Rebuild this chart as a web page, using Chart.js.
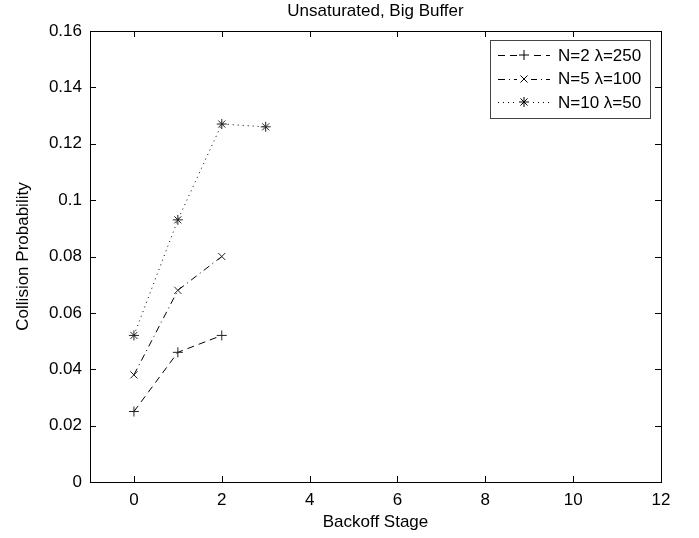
<!DOCTYPE html>
<html>
<head>
<meta charset="utf-8">
<script src="https://cdn.jsdelivr.net/npm/chart.js@4/dist/chart.umd.min.js"></script>
<style>
  body { margin: 0; background: #fff; }
  #wrap { width: 699px; height: 538px; }
</style>
</head>
<body>
<div id="wrap"><canvas id="chart" width="699" height="538"></canvas></div>
<script>
// data
const stages2 = [0, 1, 2];
const prob2 = [0.025, 0.046, 0.052];
const stages5 = [0, 1, 2];
const prob5 = [0.038, 0.068, 0.080];
const stages10 = [0, 1, 2, 3];
const prob10 = [0.052, 0.093, 0.127, 0.126];
const seriesLabels = ["N=2 \u03bb=250", "N=5 \u03bb=100", "N=10 \u03bb=50"];
const xTicks = [0, 2, 4, 6, 8, 10, 12];
const yTicks = [0, 0.02, 0.04, 0.06, 0.08, 0.1, 0.12, 0.14, 0.16];

const FONT = "'Liberation Sans', Arial, Helvetica, sans-serif";
const FSIZE = 17;

function toPoints(xs, ys) {
  return xs.map((x, i) => ({ x: x, y: ys[i] }));
}

const styles = [
  { dash: [7, 5], point: "cross" },
  { dash: [7, 4, 1, 4], point: "crossRot" },
  { dash: [1, 4], point: "star" },
];

// inward ticks on all four sides, the box, title and legend
const frame = {
  id: "frame",
  afterDraw(chart) {
    const ctx = chart.ctx;
    const a = chart.chartArea;
    const xs = chart.scales.x, ys = chart.scales.y;
    ctx.save();
    ctx.strokeStyle = "#000";
    ctx.lineWidth = 1;
    ctx.strokeRect(a.left + 0.5, a.top + 0.5, a.right - a.left, a.bottom - a.top);
    ctx.beginPath();
    xTicks.forEach(v => {
      const px = Math.round(xs.getPixelForValue(v)) + 0.5;
      ctx.moveTo(px, a.bottom); ctx.lineTo(px, a.bottom - 6);
      ctx.moveTo(px, a.top); ctx.lineTo(px, a.top + 6);
    });
    yTicks.forEach(v => {
      const py = Math.round(ys.getPixelForValue(v)) + 0.5;
      ctx.moveTo(a.left, py); ctx.lineTo(a.left + 6, py);
      ctx.moveTo(a.right, py); ctx.lineTo(a.right - 6, py);
    });
    ctx.stroke();

    // title
    ctx.fillStyle = "#000";
    ctx.font = FSIZE + "px " + FONT;
    ctx.textAlign = "center";
    ctx.textBaseline = "middle";
    ctx.fillText("Unsaturated, Big Buffer", (a.left + a.right) / 2, 11);

    // legend
    const bx = 490, by = 40, bw = 160, bh = 78;
    ctx.fillStyle = "#fff";
    ctx.fillRect(bx, by, bw, bh);
    ctx.strokeStyle = "#444";
    ctx.strokeRect(bx + 0.5, by + 0.5, bw, bh);
    ctx.textAlign = "left";
    seriesLabels.forEach((lab, i) => {
      const y = by + 15 + i * 23.5;
      ctx.strokeStyle = "#000";
      ctx.setLineDash(styles[i].dash);
      ctx.beginPath();
      ctx.moveTo(bx + 8, Math.round(y) + 0.5); ctx.lineTo(bx + 60, Math.round(y) + 0.5);
      ctx.stroke();
      ctx.setLineDash([]);
      ctx.fillStyle = "#fff";
      ctx.fillRect(bx + 27, y - 6, 14, 13);
      Chart.helpers.drawPoint(ctx, { pointStyle: styles[i].point, radius: 5, borderWidth: 1 }, bx + 34, Math.round(y));
      ctx.fillStyle = "#000";
      ctx.fillText(lab, bx + 68, y + 1);
    });
    ctx.restore();
  }
};

const datasets = [
  toPoints(stages2, prob2),
  toPoints(stages5, prob5),
  toPoints(stages10, prob10),
].map((pts, i) => ({
  label: seriesLabels[i],
  data: pts,
  borderColor: "#000",
  backgroundColor: "#000",
  borderWidth: 1,
  borderDash: styles[i].dash,
  pointStyle: styles[i].point,
  pointRadius: 5,
  pointBorderColor: "#222",
  pointBorderWidth: 1,
  fill: false,
  tension: 0,
}));

new Chart(document.getElementById("chart").getContext("2d"), {
  type: "line",
  data: { datasets: datasets },
  options: {
    responsive: false,
    animation: false,
    layout: { padding: { top: 31, right: 38, left: 0, bottom: 0 } },
    plugins: {
      legend: { display: false },
      tooltip: { enabled: false },
      title: { display: false },
    },
    scales: {
      x: {
        type: "linear",
        min: -1,
        max: 12,
        afterBuildTicks: s => { s.ticks = xTicks.map(v => ({ value: v })); },
        afterFit: s => { s.height = 56; },
        grid: { display: false, drawTicks: false },
        border: { display: false },
        ticks: { color: "#000", font: { family: FONT, size: FSIZE }, padding: 8, maxRotation: 0 },
        title: { display: true, text: "Backoff Stage", color: "#000", font: { family: FONT, size: FSIZE }, padding: { top: 0, bottom: 5 } },
      },
      y: {
        type: "linear",
        min: 0,
        max: 0.16,
        afterBuildTicks: s => { s.ticks = yTicks.map(v => ({ value: v })); },
        afterFit: s => { s.width = 90; },
        grid: { display: false, drawTicks: false },
        border: { display: false },
        ticks: {
          color: "#000",
          font: { family: FONT, size: FSIZE },
          padding: 8,
          callback: v => String(+v.toFixed(2)),
        },
        title: { display: true, text: "Collision Probability", color: "#000", font: { family: FONT, size: FSIZE }, padding: { top: 13, bottom: 0 } },
      },
    },
  },
  plugins: [frame],
});
</script>
</body>
</html>
